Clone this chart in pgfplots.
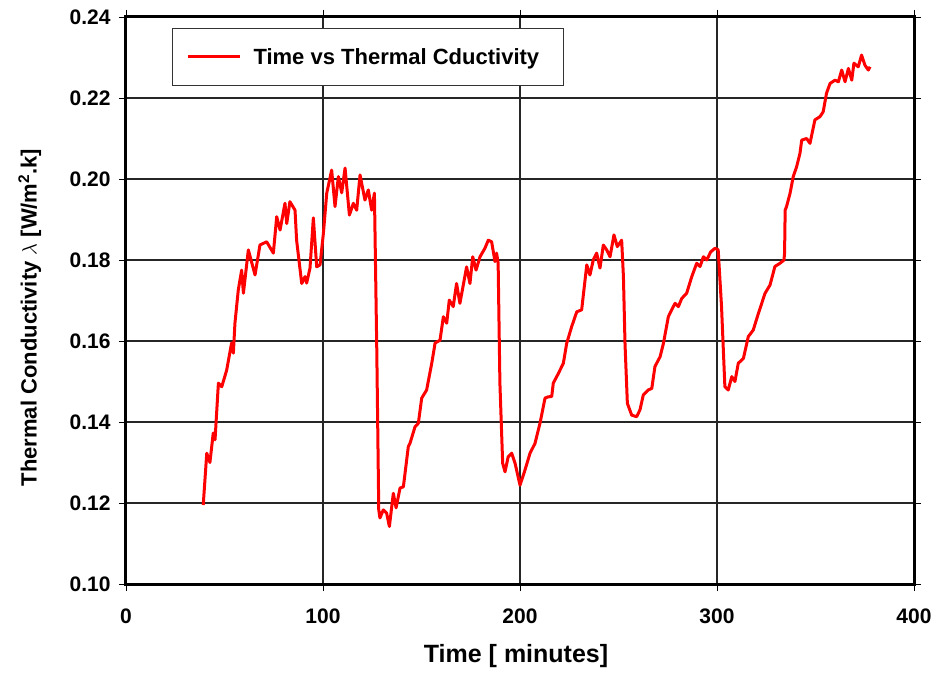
\documentclass[border=0pt]{standalone}
\usepackage{fontspec}
\setmainfont{Liberation Sans}
\usepackage{pgfplots}
\pgfplotsset{compat=1.18}
\usepackage{pgfplotstable}

% Time [min] vs thermal conductivity
\pgfplotstableread{
t      k
39.2   0.1195
41.0   0.1323
42.6   0.1300
44.3   0.1373
45.2   0.1356
46.9   0.1496
48.6   0.1487
51.1   0.1528
53.6   0.1595
54.5   0.1570
55.3   0.1644
57.0   0.1726
58.7   0.1775
59.6   0.1718
62.1   0.1825
65.5   0.1763
68.0   0.1837
71.4   0.1845
74.8   0.1817
76.5   0.1907
78.2   0.1874
80.7   0.1940
81.6   0.1890
83.2   0.1944
85.8   0.1923
86.6   0.1849
89.2   0.1742
90.9   0.1759
91.7   0.1743
93.4   0.1780
95.1   0.1904
96.8   0.1783
98.5   0.1788
100.2  0.1866
101.9  0.1965
104.4  0.2022
106.1  0.1932
107.8  0.2006
109.5  0.1966
111.2  0.2027
113.4  0.1911
115.4  0.1940
117.1  0.1923
118.8  0.2010
121.3  0.1948
123.0  0.1973
124.7  0.1923
126.1  0.1965
127.3  0.1578
128.3  0.1183
128.9  0.1163
130.6  0.1183
132.3  0.1175
133.7  0.1142
135.7  0.1224
137.1  0.1188
139.1  0.1237
140.8  0.1240
143.3  0.1339
144.2  0.1348
146.7  0.1388
148.4  0.1397
150.1  0.1459
152.6  0.1479
155.2  0.1545
156.9  0.1595
159.4  0.1602
161.1  0.1660
162.8  0.1644
164.1  0.1701
166.1  0.1685
167.8  0.1742
169.5  0.1693
172.9  0.1783
174.6  0.1742
176.0  0.1808
177.7  0.1775
179.7  0.1808
182.2  0.1829
183.9  0.1849
185.6  0.1845
187.3  0.1796
188.1  0.1817
188.9  0.1793
189.8  0.1496
191.2  0.1298
192.4  0.1277
194.0  0.1314
195.8  0.1323
197.5  0.1298
200.0  0.1244
202.5  0.1281
205.1  0.1323
207.6  0.1347
210.2  0.1398
212.7  0.1459
214.2  0.1462
216.1  0.1463
216.9  0.1496
219.5  0.1520
222.0  0.1545
223.7  0.1594
226.2  0.1635
228.8  0.1672
231.3  0.1677
233.9  0.1788
235.5  0.1763
237.2  0.1800
238.9  0.1817
240.6  0.1780
242.3  0.1837
244.0  0.1825
245.7  0.1808
247.7  0.1862
249.4  0.1833
251.6  0.1849
252.5  0.1759
253.3  0.1594
254.5  0.1446
256.7  0.1417
259.2  0.1413
260.9  0.1430
262.6  0.1467
265.1  0.1479
266.9  0.1483
268.5  0.1537
271.1  0.1561
272.8  0.1594
275.3  0.1660
277.0  0.1677
278.7  0.1693
280.4  0.1685
282.1  0.1705
284.6  0.1718
287.2  0.1759
289.7  0.1792
291.4  0.1784
293.1  0.1808
294.8  0.1800
296.8  0.1820
299.0  0.1829
300.6  0.1825
302.3  0.1685
304.0  0.1487
305.7  0.1479
307.5  0.1512
309.1  0.1500
310.8  0.1545
313.4  0.1557
315.9  0.1611
318.4  0.1627
321.0  0.1668
322.7  0.1693
324.4  0.1718
326.9  0.1738
329.4  0.1784
332.0  0.1792
334.0  0.1800
334.3  0.1817
334.6  0.1923
335.3  0.1932
337.1  0.1965
338.7  0.2006
340.4  0.2030
342.1  0.2063
343.0  0.2096
345.5  0.2100
347.2  0.2088
349.7  0.2146
352.3  0.2154
353.9  0.2166
355.6  0.2212
357.4  0.2236
359.9  0.2244
361.6  0.2240
363.3  0.2269
365.0  0.2240
366.7  0.2273
368.4  0.2244
369.5  0.2286
371.7  0.2277
373.4  0.2306
375.1  0.2281
376.8  0.2269
377.7  0.2277
}\conductivity

\begin{document}
\begin{tikzpicture}
\path[use as bounding box] (-126pt,-91pt) rectangle (815pt,584pt);
\begin{axis}[
  at={(0,0)}, anchor=south west,
  scale only axis,
  width=788pt, height=567pt,
  xmin=0, xmax=400, ymin=0.10, ymax=0.24,
  xtick={0,100,200,300,400},
  ytick={0.10,0.12,0.14,0.16,0.18,0.20,0.22,0.24},
  yticklabel style={xshift=-5pt,
    /pgf/number format/fixed,
    /pgf/number format/fixed zerofill,
    /pgf/number format/precision=2},
  /pgf/number format/assume math mode=true,
  ticklabel style={font=\fontsize{21}{23}\selectfont\bfseries},
  tick align=outside,
  major tick length=7pt,
  tick style={black, line width=0.9pt},
  axis line style={black, line width=3pt},
  grid=major,
  major grid style={black!85, line width=1.3pt},
  xticklabel style={yshift=-14pt},
  xlabel={Time [ minutes]},
  ylabel={Thermal Conductivity $\lambda$ [W/m$^{\mathbf{2}}$.k]},
  xlabel style={font=\fontsize{25}{28}\selectfont\bfseries,
    at={(axis description cs:0.495,-0.127)}, anchor=center},
  ylabel style={font=\fontsize{22}{26}\selectfont\bfseries,
    at={(axis description cs:-0.122,0.47)}, anchor=center},
  legend style={at={(axis description cs:0.0584,0.981)}, anchor=north west,
    draw=black!80, line width=1pt, fill=white,
    font=\fontsize{22}{24}\selectfont\bfseries,
    inner xsep=14pt, inner ysep=18pt, column sep=10pt,
    legend cell align=left},
  legend image code/.code={\draw[#1, line width=3pt] (0pt,0pt) -- (52pt,0pt);},
]
\addplot[red, line width=3pt, line join=round] table[x=t, y=k] {\conductivity};
\addlegendentry{Time vs Thermal Cductivity\hspace*{8pt}\null}
\end{axis}
\end{tikzpicture}
\end{document}
